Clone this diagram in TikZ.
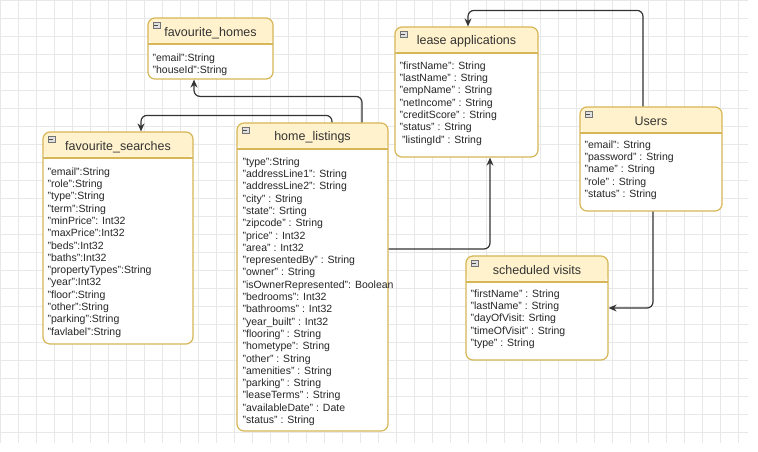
\documentclass[tikz,border=0pt]{standalone}
\usepackage{fontspec}
\setmainfont{Liberation Sans}
\usetikzlibrary{arrows.meta}

\definecolor{hdfill}{HTML}{FFF2CC}
\definecolor{hdline}{HTML}{D6B656}
\definecolor{relcol}{HTML}{333333}
\definecolor{gridcol}{HTML}{E8E8E8}

\begin{document}
\begin{tikzpicture}[x=1pt,y=-1pt]
	\tikzset{tbl/.style={draw=hdline, line width=1.2pt, rounded corners=7pt,
				fill=white, inner sep=0pt,
				path picture={
						\fill[hdfill] (path picture bounding box.north west)
						rectangle ([yshift=-26pt]path picture bounding box.north east);
						\draw[hdline, line width=1.2pt]
						([yshift=-26pt]path picture bounding box.north west) --
						([yshift=-26pt]path picture bounding box.north east);}}}
	\tikzset{tbltitle/.style={font=\fontsize{12.5}{14}\selectfont,
				text=black!80, inner sep=0pt}}
	\tikzset{tblbody/.style={font=\fontsize{10.5}{12.3}\selectfont,
				text=black!85, align=left, anchor=north west, inner sep=0pt}}
	\tikzset{tblicon/.style={draw=black!55, fill=black!12, line width=0.5pt,
				minimum width=7pt, minimum height=6pt, inner sep=0pt,
				path picture={\draw[black!70, line width=0.8pt]
						([xshift=1.5pt]path picture bounding box.west) --
						([xshift=-1.5pt]path picture bounding box.east);}}}
	\tikzset{relline/.style={draw=relcol, line width=1.2pt, rounded corners=6pt,
				-{Stealth[length=8pt, width=7pt]}}}

	\useasboundingbox (0,0) rectangle (758,451);
	\draw[gridcol, line width=0.5pt] (0,0) grid[step=18pt] (748,443);

	% favourite_homes
	\node[tbl, minimum width=125pt, minimum height=61pt] (homes) at (210.5,48.5) {};
	\node[tblicon] (homes-i) at ([xshift=9pt, yshift=-8pt]homes.north west) {};
	\node[tbltitle] (homes-t) at ([yshift=-15.5pt]homes.north) {favourite\_homes};
	\node[tblbody] (homes-b) at ([xshift=5pt, yshift=-36pt]homes.north west)
	{"email":String\\"houseId":String};

	% favourite_searches
	\node[tbl, minimum width=150pt, minimum height=212pt] (searches) at (118,238) {};
	\node[tblicon] (searches-i) at ([xshift=9pt, yshift=-8pt]searches.north west) {};
	\node[tbltitle] (searches-t) at ([yshift=-15.5pt]searches.north) {favourite\_searches};
	\node[tblbody] (searches-b) at ([xshift=5pt, yshift=-36pt]searches.north west)
	{"email":String\\"role":String\\"type":String\\"term":String\\
		"minPrice": Int32\\"maxPrice":Int32\\"beds":Int32\\"baths":Int32\\
		"propertyTypes":String\\"year":Int32\\"floor":String\\"other":String\\
		"parking":String\\"favlabel":String};

	% home_listings
	\node[tbl, minimum width=151pt, minimum height=308pt] (listings) at (312.5,277) {};
	\node[tblicon] (listings-i) at ([xshift=9pt, yshift=-8pt]listings.north west) {};
	\node[tbltitle] (listings-t) at ([yshift=-15pt]listings.north) {home\_listings};
	\node[tblbody] (listings-b) at ([xshift=6pt, yshift=-35pt]listings.north west)
	{"type":String\\"addressLine1": String\\"addressLine2": String\\
		"city" : String\\"state": Srting\\"zipcode" : String\\"price" : Int32\\
		"area" : Int32\\"representedBy" : String\\"owner" : String\\
		"isOwnerRepresented": Boolean\\"bedrooms": Int32\\"bathrooms" : Int32\\
		"year\_built" : Int32\\"flooring" : String\\"hometype": String\\
		"other" : String\\"amenities" : String\\"parking" : String\\
		"leaseTerms" : String\\"availableDate" : Date\\"status" : String};

	% lease applications
	\node[tbl, minimum width=143pt, minimum height=130pt] (lease) at (466.5,92) {};
	\node[tblicon] (lease-i) at ([xshift=9pt, yshift=-8pt]lease.north west) {};
	\node[tbltitle] (lease-t) at ([yshift=-15pt]lease.north) {lease applications};
	\node[tblbody] (lease-b) at ([xshift=5pt, yshift=-35pt]lease.north west)
	{"firstName": String\\"lastName" : String\\"empName" : String\\
		"netIncome" : String\\"creditScore" : String\\"status" : String\\
		\hspace{2.5pt}"listingId" : String};

	% Users
	\node[tbl, minimum width=142pt, minimum height=104pt] (users) at (651,159) {};
	\node[tblicon] (users-i) at ([xshift=9pt, yshift=-8pt]users.north west) {};
	\node[tbltitle] (users-t) at ([yshift=-15pt]users.north) {Users};
	\node[tblbody] (users-b) at ([xshift=5pt, yshift=-34pt]users.north west)
	{"email": String\\"password" : String\\"name" : String\\
		"role" : String\\"status" : String};

	% scheduled visits
	\node[tbl, minimum width=142pt, minimum height=104pt] (visits) at (537,308) {};
	\node[tblicon] (visits-i) at ([xshift=9pt, yshift=-8pt]visits.north west) {};
	\node[tbltitle] (visits-t) at ([yshift=-15pt]visits.north) {scheduled visits};
	\node[tblbody] (visits-b) at ([xshift=5pt, yshift=-34pt]visits.north west)
	{"firstName" : String\\"lastName" : String\\"dayOfVisit: Srting\\
		"timeOfVisit" : String\\"type" : String};

	% relations
	\draw[relline] ([xshift=49.5pt]listings.north) -- ++(0,-26) -| ([xshift=-16.5pt]homes.south);
	\draw[relline] ([xshift=19.5pt]listings.north) -- ++(0,-7) -| ([xshift=23pt]searches.north);
	\draw[relline] ([yshift=28pt]listings.east) -| ([xshift=23.5pt]lease.south);
	\draw[relline] ([xshift=-8pt]users.north) -- ++(0,-96) -| ([xshift=1.5pt]lease.north);
	\draw[relline] ([xshift=2pt]users.south) |- (visits.east);
\end{tikzpicture}
\end{document}
